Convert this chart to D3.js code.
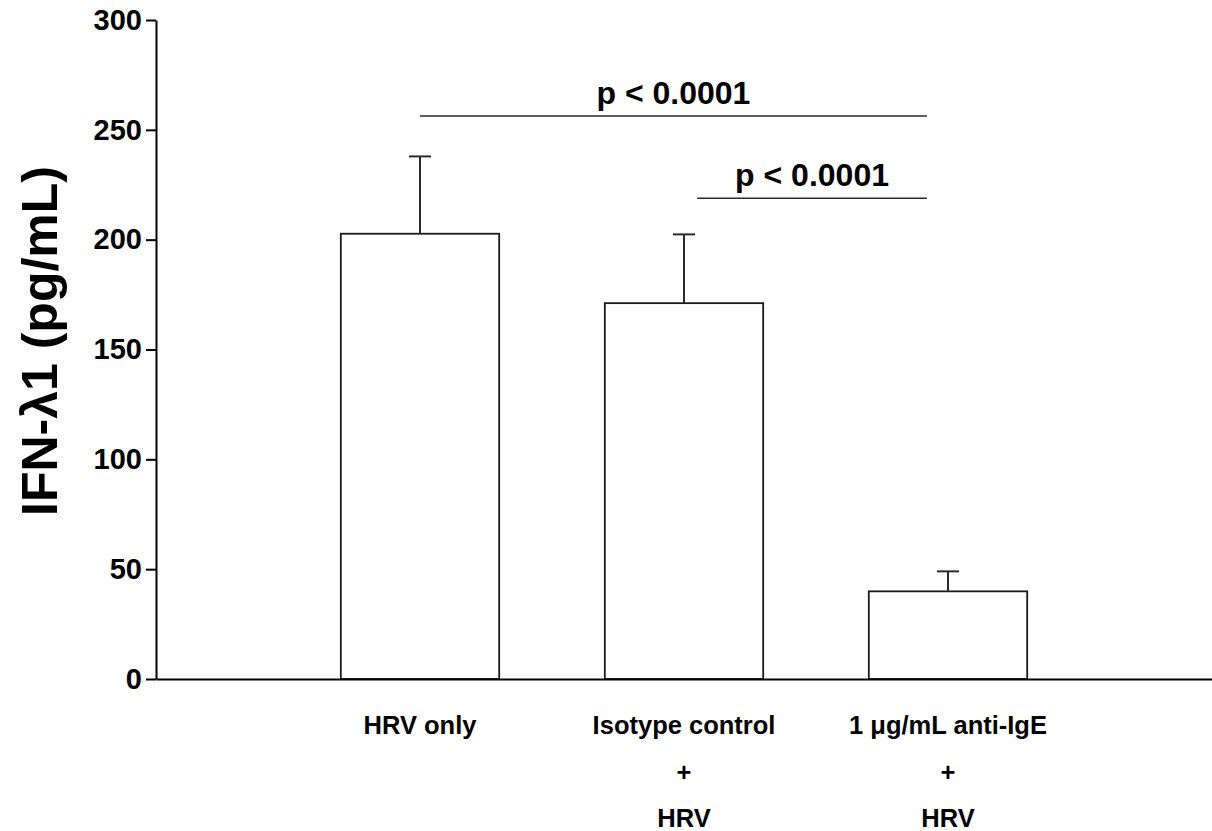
<!DOCTYPE html>
<html lang="en">
<head>
    <meta charset="utf-8">
    <title>IFN-λ1 bar chart</title>
    <style>
        body { margin: 0; background: #fff; }
        text { font-family: "Liberation Sans", Arial, sans-serif; font-weight: bold; fill: #000; }
    </style>
</head>
<body>

<script src="https://cdn.jsdelivr.net/npm/d3@7"></script>
<script>
    // values
    var categories = ["HRV only", "Isotype control", "1 μg/mL anti-IgE"];
    var labelLines = [["HRV only"], ["Isotype control", "+", "HRV"], ["1 μg/mL anti-IgE", "+", "HRV"]];
    var means = [202.7, 171.1, 39.9];
    var errors = [35.2, 31.3, 9.1];
    var yTicks = [0, 50, 100, 150, 200, 250, 300];

    // significance bars: positions in category units (1 = first bar centre)
    var sigFrom = [1.0, 2.05];
    var sigTo = [2.92, 2.92];
    var sigLevel = [256.3, 218.9];
    var sigLabels = ["p < 0.0001", "p < 0.0001"];

    function main() {
        var width = 1212,
            height = 831;
        var left = 156, right = 1212, top = 20, bottom = 679;

        var svg = d3.select("body").append("svg")
            .attr("width", width)
            .attr("height", height);

        var x = d3.scaleBand()
            .domain(categories)
            .range([left, right])
            .paddingInner(0.4)
            .paddingOuter(0.7);

        // continuous position scale for the p-value lines
        var xPos = d3.scaleLinear().domain([0, 4]).range([left, right]);

        var y = d3.scaleLinear()
            .domain([0, 300])
            .range([bottom, top]);

        // bars
        svg.append("g").selectAll("rect")
            .data(categories)
            .enter().append("rect")
            .attr("x", function (d) { return x(d); })
            .attr("y", function (d, i) { return y(means[i]); })
            .attr("width", x.bandwidth())
            .attr("height", function (d, i) { return y(0) - y(means[i]); })
            .attr("fill", "#fff")
            .attr("stroke", "#1a1a1a")
            .attr("stroke-width", 1.8);

        // error bars (upper only)
        var eb = svg.append("g")
            .attr("stroke", "#2a2a2a")
            .attr("stroke-width", 2);
        categories.forEach(function (c, i) {
            var cx = x(c) + x.bandwidth() / 2;
            eb.append("line")
                .attr("x1", cx).attr("x2", cx)
                .attr("y1", y(means[i])).attr("y2", y(means[i] + errors[i]));
            eb.append("line")
                .attr("x1", cx - 11).attr("x2", cx + 11)
                .attr("y1", y(means[i] + errors[i])).attr("y2", y(means[i] + errors[i]));
        });

        // y axis
        var yAxis = svg.append("g")
            .attr("transform", "translate(" + left + ",0)")
            .call(d3.axisLeft(y).tickValues(yTicks).tickSize(10).tickSizeOuter(0).tickPadding(4));
        yAxis.selectAll("path, line").attr("stroke", "#000").attr("stroke-width", 2);
        yAxis.selectAll("text").style("font-size", "29px");

        // x axis
        var xAxis = svg.append("g")
            .attr("transform", "translate(0," + bottom + ")")
            .call(d3.axisBottom(x).tickSize(0).tickSizeOuter(0).tickFormat(""));
        xAxis.select(".domain").attr("stroke", "#000").attr("stroke-width", 2);

        // category labels, several lines each
        var lab = svg.append("g");
        categories.forEach(function (c, i) {
            var cx = x(c) + x.bandwidth() / 2;
            labelLines[i].forEach(function (t, j) {
                lab.append("text")
                    .attr("x", cx)
                    .attr("y", 734 + j * 46.5)
                    .attr("text-anchor", "middle")
                    .style("font-size", "25.5px")
                    .text(t);
            });
        });

        // y title
        svg.append("text")
            .attr("transform", "translate(57,341) rotate(-90)")
            .attr("text-anchor", "middle")
            .style("font-size", "50px")
            .text("IFN-λ1 (pg/mL)");

        // p-value lines
        var sig = svg.append("g");
        sigLabels.forEach(function (t, i) {
            var x1 = xPos(sigFrom[i]), x2 = xPos(sigTo[i]), yy = y(sigLevel[i]);
            sig.append("line")
                .attr("x1", x1).attr("x2", x2)
                .attr("y1", yy).attr("y2", yy)
                .attr("stroke", "#2a2a2a")
                .attr("stroke-width", 1.5);
            sig.append("text")
                .attr("x", (x1 + x2) / 2)
                .attr("y", yy - 12)
                .attr("text-anchor", "middle")
                .style("font-size", "32px")
                .text(t);
        });
    }

    window.onload = function () {
        main();
    };
</script>
</body>
</html>
